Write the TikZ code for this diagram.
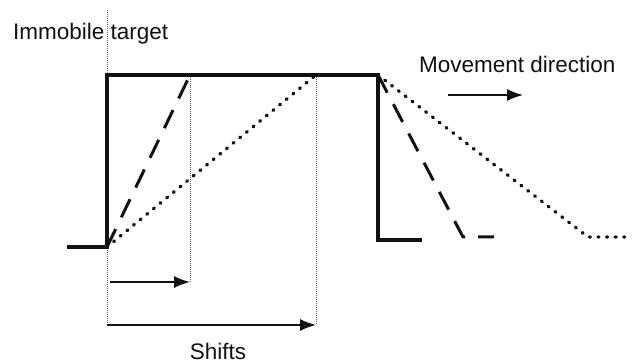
\documentclass[tikz,border=0pt]{standalone}
\usepackage{fontspec}
\setmainfont{Liberation Sans}
\usepackage{xcolor}
\usetikzlibrary{arrows.meta,positioning}
\definecolor{ink}{HTML}{111111}
\definecolor{guide}{HTML}{666666}
\tikzset{
  target/.style={line width=3.1pt,draw=ink},
  fastimg/.style={line width=3pt,draw=ink,dash pattern=on 20pt off 13pt},
  slowimg/.style={line width=3.4pt,draw=ink,line cap=round,dash pattern=on 1pt off 7.6pt},
  guideline/.style={line width=1pt,draw=guide,densely dotted},
  shiftarrow/.style={-{Latex[length=16pt,width=12pt]},line width=1.6pt,draw=ink},
  lbl/.style={inner sep=0pt,text=ink,font=\fontsize{22.5}{27}\selectfont}
}
\begin{document}
\begin{tikzpicture}[x=1pt,y=-1pt]
  \useasboundingbox (0,0) rectangle (634,363);
  % key points of the target profile
  \coordinate (base) at (67,247);
  \coordinate (foot) at (107,247);
  \coordinate (topL) at (107,75);
  \coordinate (topR) at (378,75);
  \coordinate (drop) at (378,240);
  \coordinate (tailS) at (422,240);
  \coordinate (fastTop) at (190,75);
  \coordinate (slowTop) at (316,75);
  \coordinate (fastEnd) at (463,237);
  \coordinate (fastTail) at (494,237);
  \coordinate (slowEnd) at (588,237);
  \coordinate (slowTail) at (626,237);
  % guides and shifts
  \coordinate (g0) at (107,10);
  \coordinate (a0) at (110,282);
  \coordinate (a1) at (190,282);
  \coordinate (b0) at (107,325);
  \coordinate (b1) at (316,325);
  \coordinate (m0) at (448,95);
  \coordinate (m1) at (523,95);

  \draw[guideline] (g0)--(b0);
  \draw[guideline] (fastTop)--(a1);
  \draw[guideline] (slowTop)--(b1);

  \draw[target] (base)--(foot)--(topL)--(topR)--(drop)--(tailS);
  \draw[fastimg] (foot)--(fastTop);
  \draw[fastimg] (topR)--(fastEnd)--(fastTail);
  \draw[slowimg] (foot)--(slowTop);
  \draw[slowimg] (topR)--(slowEnd)--(slowTail);

  \draw[shiftarrow] (a0)--(a1);
  \draw[shiftarrow] (b0)--(b1);
  \draw[shiftarrow,line width=1.4pt] (m0)--(m1);

  \node[lbl,anchor=base west] (immo) at (13,40) {Immobile target};
  \node[lbl,anchor=base west] (move) at (419,73) {Movement direction};
  \node[lbl,anchor=base] (shifts) at (218,359) {Shifts};
\end{tikzpicture}
\end{document}
